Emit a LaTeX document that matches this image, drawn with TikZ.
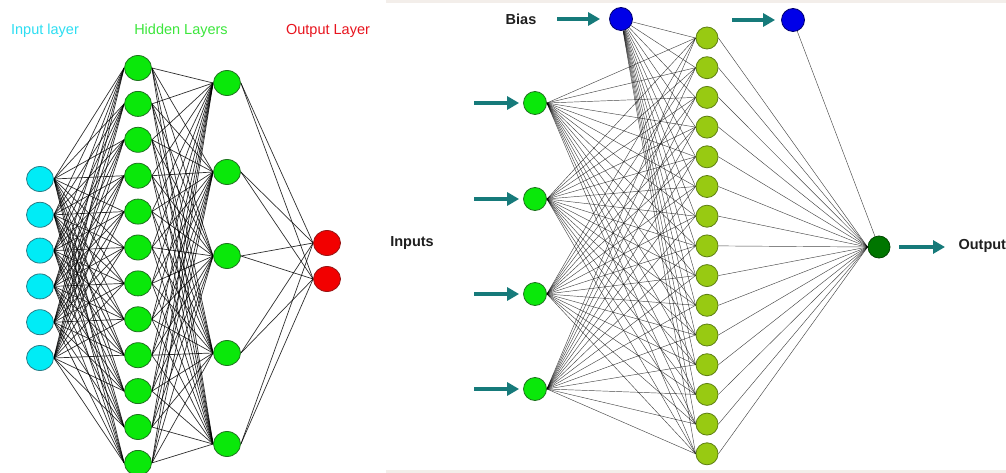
\documentclass[tikz,border=0pt]{standalone}
\usepackage{fontspec}
\setmainfont{Liberation Sans}
\usetikzlibrary{arrows.meta,backgrounds,shapes.geometric}

% node colours
\definecolor{cyanfill}{RGB}{0,236,246}
\definecolor{cyanline}{RGB}{40,125,135}
\definecolor{greenfill}{RGB}{10,232,10}
\definecolor{greenline}{RGB}{30,115,30}
\definecolor{redfill}{RGB}{242,0,0}
\definecolor{redline}{RGB}{150,20,20}
\definecolor{olivefill}{RGB}{152,202,18}
\definecolor{oliveline}{RGB}{95,128,20}
\definecolor{bluefill}{RGB}{0,0,232}
\definecolor{blueline}{RGB}{0,0,110}
\definecolor{darkfill}{RGB}{0,118,0}
\definecolor{darkline}{RGB}{0,70,0}
% text and arrow colours
\definecolor{cyantext}{RGB}{45,222,242}
\definecolor{greentext}{RGB}{60,230,60}
\definecolor{redtext}{RGB}{232,20,30}
\definecolor{tealarrow}{RGB}{22,122,122}
\definecolor{bandgray}{RGB}{243,238,234}

\begin{document}
\begin{tikzpicture}[x=1pt,y=-1pt,
  lnode/.style={ellipse,minimum width=27pt,minimum height=25pt,inner sep=0pt,line width=0.8pt},
  rnode/.style={circle,minimum size=23pt,inner sep=0pt,line width=0.8pt},
  innode/.style={lnode,fill=cyanfill,draw=cyanline},
  hidnode/.style={lnode,fill=greenfill,draw=greenline},
  outnode/.style={lnode,fill=redfill,draw=redline},
  xnode/.style={rnode,fill=greenfill,draw=greenline},
  hnode/.style={rnode,minimum size=22pt,fill=olivefill,draw=oliveline},
  bnode/.style={rnode,fill=bluefill,draw=blueline},
  onode/.style={rnode,minimum size=22pt,fill=darkfill,draw=darkline},
  ledge/.style={draw=black,opacity=0.82,line width=0.7pt},
  redge/.style={draw=black,opacity=0.72,line width=0.45pt},
  feed/.style={draw=tealarrow,line width=4.2pt,-{Triangle[length=12pt,width=13pt]}},
  title/.style={font=\fontsize{14.5}{17}\selectfont},
  tag/.style={font=\fontsize{14.5}{17}\selectfont\bfseries,text=black!88}]

\useasboundingbox (0,0) rectangle (1006,473);

% ---------- left network ----------
\node[title,text=cyantext] (tIn) at (45,31) {Input layer};
\node[title,text=greentext] (tHid) at (181,31) {Hidden Layers};
\node[title,text=redtext] (tOut) at (328,31) {Output Layer};

\foreach \i in {1,...,6}
  \node[innode] (I\i) at (40,{179+35.8*(\i-1)}) {};
\foreach \j in {1,...,12}
  \node[hidnode] (H\j) at (138,{68+35.9*(\j-1)}) {};
\foreach \k/\y in {1/83,2/172,3/256,4/353,5/444}
  \node[hidnode] (G\k) at (227,\y) {};
\node[outnode] (O1) at (327,243) {};
\node[outnode] (O2) at (327,279) {};

% ---------- right network ----------
\node[bnode] (B1) at (621,19) {};
\node[bnode] (B2) at (793,20) {};
\foreach \i/\y in {1/103,2/199,3/294,4/389}
  \node[xnode] (X\i) at (535,\y) {};
\foreach \j in {1,...,15}
  \node[hnode] (R\j) at (707,{38+29.7*(\j-1)}) {};
\node[onode] (Y) at (879,247) {};

\node[tag] (tBias) at (521,19) {Bias};
\node[tag] (tInputs) at (412,243) {Inputs};
\node[tag,anchor=west] (tOutput) at (955,246) {Output};

% page, frame strips and all weights sit behind the nodes
\begin{scope}[on background layer]
  \fill[white] (0,0) rectangle (1006,473);
  \fill[bandgray] (386,0) rectangle (1006,3);
  \fill[bandgray] (386,470) rectangle (1006,473);

  \foreach \i in {1,...,6}
    \foreach \j in {1,...,12}
      \draw[ledge] (I\i.east) -- (H\j.west);
  \foreach \j in {1,...,12}
    \foreach \k in {1,...,5}
      \draw[ledge] (H\j.east) -- (G\k.west);
  \foreach \k in {1,...,5}
    \foreach \m in {1,2}
      \draw[ledge] (G\k.east) -- (O\m.west);

  \foreach \j in {1,...,15}
    \draw[redge] (B1) -- (R\j.west);
  \foreach \i in {1,...,4}
    \foreach \j in {1,...,15}
      \draw[redge] (X\i.east) -- (R\j.west);
  \foreach \j in {1,...,15}
    \draw[redge] (R\j.east) -- (Y.west);
  \draw[redge] (B2) -- (Y);
\end{scope}

% feed arrows
\coordinate (fb1) at (557,19);
\coordinate (fb2) at (732,20);
\coordinate (fy) at (945,247);
\draw[feed,shorten >=9pt] (fb1) -- (B1);
\draw[feed,shorten >=6pt] (fb2) -- (B2);
\foreach \i/\y in {1/103,2/199,3/294,4/389} {
  \coordinate (fx\i) at (474,\y);
  \draw[feed,shorten >=4pt] (fx\i) -- (X\i);
}
\draw[feed,shorten <=9pt] (Y) -- (fy);

\end{tikzpicture}
\end{document}
